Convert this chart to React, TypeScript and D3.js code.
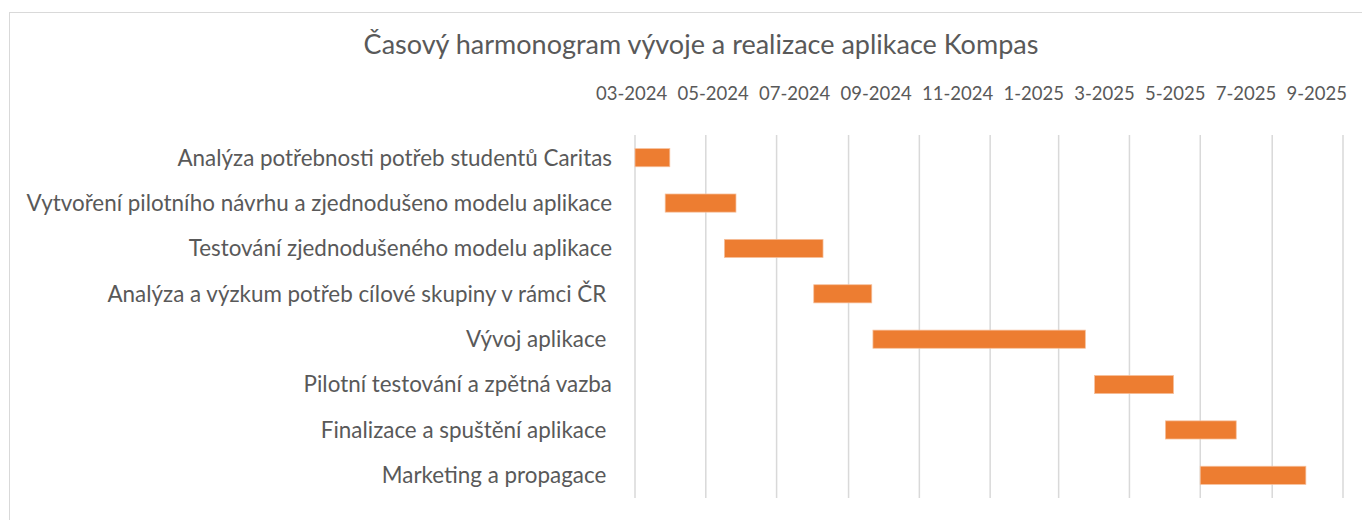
import { useEffect, useRef } from "react";
import * as d3 from "d3";

const tasks = [
  "Analýza potřebnosti potřeb studentů Caritas",
  "Vytvoření pilotního návrhu a zjednodušeno modelu aplikace",
  "Testování zjednodušeného modelu aplikace",
  "Analýza a výzkum potřeb cílové skupiny v rámci ČR ",
  "Vývoj aplikace ",
  "Pilotní testování a zpětná vazba",
  "Finalizace a spuštění aplikace ",
  "Marketing a propagace ",
];
const starts = [
  "2024-03-01", "2024-03-27", "2024-05-17", "2024-08-02",
  "2024-09-22", "2025-04-01", "2025-06-01", "2025-07-01",
];
const ends = [
  "2024-03-31", "2024-05-27", "2024-08-10", "2024-09-21",
  "2025-03-24", "2025-06-08", "2025-08-01", "2025-09-30",
];
const tickLabels = [
  "03-2024", "05-2024", "07-2024", "09-2024", "11-2024",
  "1-2025", "3-2025", "5-2025", "7-2025", "9-2025",
];
const axisStart = "2024-03-01";
const axisEnd = "2025-11-01";

const FONT = "Lato, 'Noto Sans', sans-serif";
const TEXT = "#595959";

const App = () => {
  const ref = useRef<SVGSVGElement>(null);

  useEffect(() => {
    const width = 1362;
    const height = 520;
    const left = 635;
    const right = 1343;
    const top = 135;
    const bottom = 498;
    const parse = d3.timeParse("%Y-%m-%d");

    const svg = d3.select(ref.current);
    svg.selectAll("*").remove();
    svg.attr("width", width).attr("height", height);

    svg.append("rect")
      .attr("width", width).attr("height", height).attr("fill", "#fff");
    svg.append("rect")
      .attr("x", 9.5).attr("y", 12.5)
      .attr("width", width + 20).attr("height", height + 20)
      .attr("fill", "none").attr("stroke", "#d9d9d9");

    const x = d3.scaleTime()
      .domain([parse(axisStart)!, parse(axisEnd)!])
      .range([left, right]);
    const y = d3.scaleBand()
      .domain(tasks)
      .range([top, bottom])
      .paddingInner(0.6)
      .paddingOuter(0.3);

    // title
    svg.append("text")
      .attr("x", 701).attr("y", 54)
      .attr("text-anchor", "middle")
      .attr("font-family", FONT)
      .attr("font-size", 27)
      .attr("fill", TEXT)
      .text("Časový harmonogram vývoje a realizace aplikace Kompas");

    // gridlines
    const ticks = d3.timeMonth.every(2)!.range(x.domain()[0], d3.timeDay.offset(x.domain()[1], 1));
    svg.append("g")
      .selectAll("line")
      .data(ticks)
      .join("line")
      .attr("x1", d => x(d)).attr("x2", d => x(d))
      .attr("y1", top).attr("y2", bottom)
      .attr("stroke", "#d9d9d9")
      .attr("stroke-width", 1.5);

    // axis labels, spread evenly over the top like the source
    const axisG = svg.append("g")
      .attr("font-family", FONT)
      .attr("font-size", 18.5)
      .attr("fill", TEXT);
    const labels = axisG.selectAll<SVGTextElement, string>("text")
      .data(tickLabels)
      .join("text")
      .attr("y", 100)
      .text(d => d);
    const widths = labels.nodes().map(n => n.getComputedTextLength());
    const x0 = left - 39;
    const x1 = right + 4;
    const gap = (x1 - x0 - d3.sum(widths)) / (tickLabels.length - 1);
    let cur = x0;
    labels.each(function (_, i) {
      d3.select(this).attr("x", cur);
      cur += widths[i] + gap;
    });

    // task labels (trailing spaces kept as nbsp so they still push the text left)
    svg.append("g")
      .attr("font-family", FONT)
      .attr("font-size", 22.4)
      .attr("fill", TEXT)
      .attr("text-anchor", "end")
      .selectAll("text")
      .data(tasks)
      .join("text")
      .attr("x", 612)
      .attr("y", d => y(d)! + y.bandwidth() / 2)
      .attr("dy", "0.35em")
      .text(d => d.replace(/ $/, "\u00a0"));

    // bars
    svg.append("g")
      .selectAll("rect")
      .data(tasks)
      .join("rect")
      .attr("x", (_, i) => x(parse(starts[i])!))
      .attr("width", (_, i) => x(parse(ends[i])!) - x(parse(starts[i])!))
      .attr("y", d => y(d)!)
      .attr("height", y.bandwidth())
      .attr("fill", "#ED7D31")
      .attr("stroke", "#F6C09C")
      .attr("stroke-width", 0.75);
  }, []);

  return (
    <svg ref={ref} style={{ position: "absolute", left: 0, top: 0, display: "block" }}></svg>
  );
};

export default App;
